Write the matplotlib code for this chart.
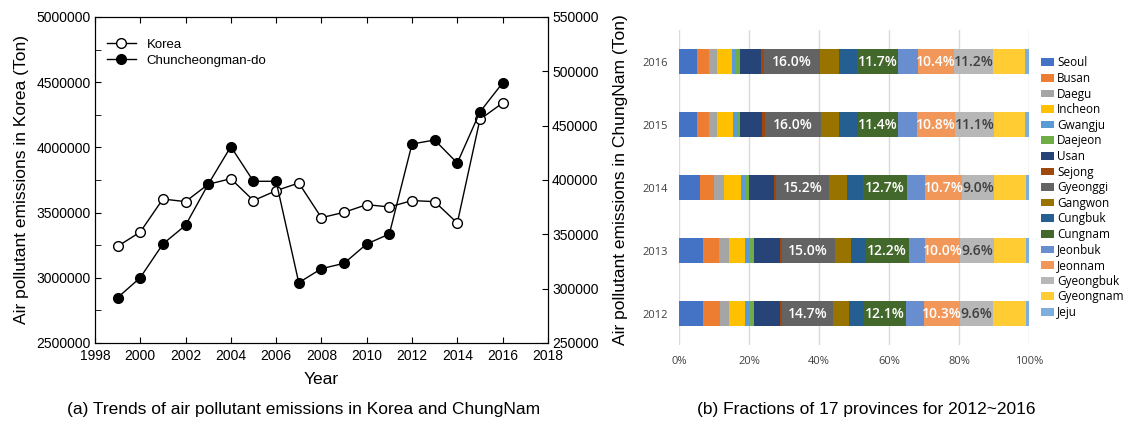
import numpy as np
import matplotlib.pyplot as plt
from matplotlib.ticker import MultipleLocator, FuncFormatter
from matplotlib.lines import Line2D

plt.rcParams['font.family'] = ['Liberation Sans', 'DejaVu Sans']

# (a) emissions trend
years = [1999, 2000, 2001, 2002, 2003, 2004, 2005, 2006, 2007, 2008,
         2009, 2010, 2011, 2012, 2013, 2014, 2015, 2016]
korea = [3241000, 3351000, 3604000, 3584000, 3717000, 3760000, 3592000, 3668000, 3727000,
         3461000, 3502000, 3561000, 3543000, 3592000, 3584000, 3420000, 4215000, 4340000]
chungnam = [291700, 310100, 341100, 358300, 396000, 430700, 398800, 398800, 305500,
            318400, 323300, 341100, 350300, 433100, 436800, 415600, 462600, 489300]

# (b) provincial fractions (%)
bar_years = ['2012', '2013', '2014', '2015', '2016']
provinces = ['Seoul', 'Busan', 'Daegu', 'Incheon', 'Gwangju', 'Daejeon', 'Usan', 'Sejong',
             'Gyeonggi', 'Gangwon', 'Cungbuk', 'Cungnam', 'Jeonbuk', 'Jeonnam',
             'Gyeongbuk', 'Gyeongnam', 'Jeju']
fractions = {
    '2012': [6.9, 4.8, 2.7, 4.5, 1.2, 1.4, 7.3, 0.6, 14.7, 4.5, 4.4, 12.1, 5.0, 10.3, 9.6, 9.3, 1.0],
    '2013': [6.9, 4.6, 2.8, 4.6, 1.2, 1.3, 7.4, 0.6, 15.0, 4.6, 4.3, 12.2, 4.8, 10.0, 9.6, 9.0, 1.0],
    '2014': [6.1, 3.8, 2.9, 4.8, 1.2, 1.1, 7.2, 0.5, 15.2, 5.0, 4.6, 12.7, 5.1, 10.7, 9.0, 9.0, 1.0],
    '2015': [5.1, 3.3, 2.4, 4.6, 1.1, 1.0, 6.2, 0.8, 16.0, 5.2, 5.2, 11.4, 5.5, 10.8, 11.1, 8.8, 1.2],
    '2016': [5.1, 3.4, 2.4, 4.3, 1.1, 1.1, 6.0, 0.9, 16.0, 5.4, 5.2, 11.7, 5.5, 10.4, 11.2, 9.0, 1.2],
}
colors = ['#4472C4', '#ED7D31', '#A5A5A5', '#FFC000', '#5B9BD5', '#70AD47', '#264478',
          '#9E480E', '#636363', '#997300', '#255E91', '#43682B', '#698ED0', '#F1975A',
          '#B7B7B7', '#FFCD33', '#7CAFDD']
labelled = {'Gyeonggi': 'white', 'Cungnam': 'white', 'Jeonnam': 'white', 'Gyeongbuk': '#404040'}

fig = plt.figure(figsize=(11.25, 4.25), dpi=100)

# ---- left chart
ax = fig.add_axes([0.0844, 0.193, 0.4026, 0.767])
ax2 = ax.twinx()
ax.plot(years, korea, '-o', color='black', lw=1, ms=7, mfc='white', mec='black', mew=1, zorder=3)
ax2.plot(years, chungnam, '-o', color='black', lw=1, ms=7, mfc='black', mec='black', zorder=3)
ax.set_xlim(1998, 2018)
ax.set_ylim(2500000, 5000000)
ax2.set_ylim(250000, 550000)
ax.xaxis.set_major_locator(MultipleLocator(2))
ax.yaxis.set_major_locator(MultipleLocator(500000))
ax.yaxis.set_minor_locator(MultipleLocator(250000))
ax.yaxis.set_major_formatter(FuncFormatter(lambda v, p: '%d' % v))
ax2.yaxis.set_major_locator(MultipleLocator(50000))
ax2.yaxis.set_major_formatter(FuncFormatter(lambda v, p: '%d' % v))
ax.tick_params(axis='both', which='both', direction='in', labelsize=10, length=4, top=True)
ax.tick_params(axis='x', pad=4)
ax.tick_params(axis='y', pad=3)
ax2.tick_params(axis='y', direction='in', labelsize=10, length=4, pad=3)
ax.set_xlabel('Year', fontsize=12.5, labelpad=7)
ax.set_ylabel('Air pollutant emissions in Korea (Ton)', fontsize=12.5, labelpad=5)
ax2.set_ylabel('Air pollutant emissions in ChungNam (Ton)', fontsize=12.5, labelpad=10)
handles = [Line2D([], [], color='black', lw=1, marker='o', ms=7, mfc='white', mec='black'),
           Line2D([], [], color='black', lw=1, marker='o', ms=7, mfc='black', mec='black')]
ax.legend(handles, ['Korea', 'Chuncheongman-do'], loc='upper left', frameon=False,
          fontsize=9.5, bbox_to_anchor=(0.0, 0.97), handlelength=2.2, labelspacing=0.3)

# ---- right chart: 100% stacked bars
bx = fig.add_axes([0.6036, 0.188, 0.3111, 0.741])
ypos = np.arange(len(bar_years))
data = np.array([fractions[y] for y in bar_years])
data = data / data.sum(axis=1, keepdims=True) * 100
left = np.zeros(len(bar_years))
for i, name in enumerate(provinces):
    vals = data[:, i]
    bx.barh(ypos, vals, left=left, height=0.4, color=colors[i], label=name, zorder=2)
    if name in labelled:
        for j, y in enumerate(bar_years):
            bx.text(left[j] + vals[j] / 2, ypos[j], '%.1f%%' % fractions[y][i],
                    ha='center', va='center', color=labelled[name], fontsize=10,
                    family='Open Sans', fontweight='semibold', zorder=3)
    left += vals
bx.set_xlim(0, 100)
bx.set_ylim(-0.5, len(bar_years) - 0.5)
bx.set_yticks(ypos)
bx.set_yticklabels(bar_years, family='Open Sans', fontsize=8, color='#404040')
bx.set_xticks(np.arange(0, 101, 20))
bx.set_xticklabels(['%d%%' % v for v in range(0, 101, 20)], family='Open Sans', fontsize=8,
                   color='#404040')
bx.grid(axis='x', color='#D9D9D9', lw=1, zorder=0)
for s in bx.spines.values():
    s.set_visible(False)
bx.tick_params(length=0, pad=8)
bx.legend(loc='center left', bbox_to_anchor=(1.02, 0.5), frameon=False,
          prop={'family': 'Open Sans', 'size': 8.5}, handlelength=1.1, handleheight=0.6,
          handletextpad=0.3, labelspacing=0.22, borderaxespad=0)

fig.text(0.27, 0.025, '(a) Trends of air pollutant emissions in Korea and ChungNam',
         ha='center', fontsize=12.5)
fig.text(0.77, 0.025, '(b) Fractions of 17 provinces for 2012~2016', ha='center', fontsize=12.5)

fig.savefig('out.png', dpi=100)
